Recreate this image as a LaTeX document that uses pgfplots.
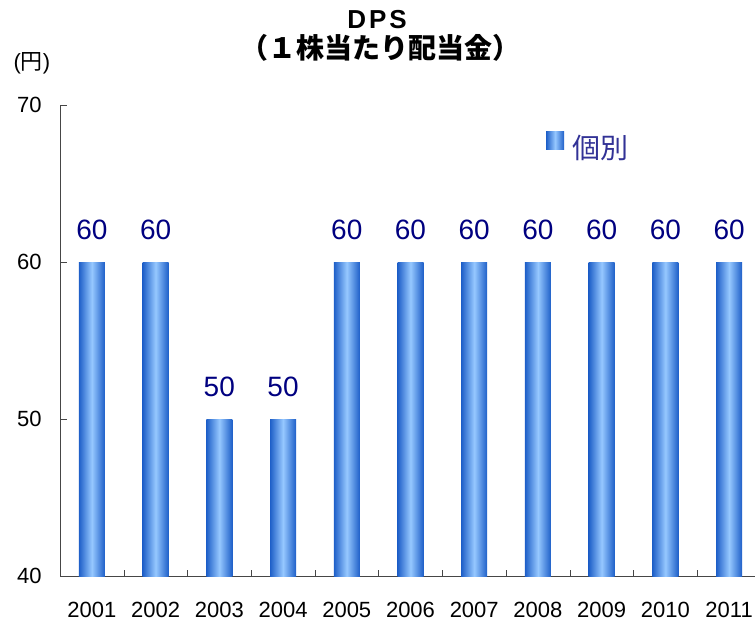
\documentclass[border=0pt]{standalone}
\usepackage{fontspec}
\setmainfont{Liberation Sans}
\newfontfamily\cjk{Noto Sans CJK JP}
\usepackage{pgfplots}
\pgfplotsset{compat=1.18}

\definecolor{barside}{RGB}{30,95,200}
\definecolor{barmid}{RGB}{150,200,255}
\definecolor{lblnavy}{RGB}{0,0,128}
\definecolor{legnavy}{RGB}{50,50,150}
\definecolor{axgray}{RGB}{70,70,70}

\pgfplotsset{
    gbar/.style={ybar, bar width=13pt, draw=none,
        left color=barside, right color=barside, middle color=barmid},
}

\begin{document}
\begin{tikzpicture}
% page = 755x622 px at 0.5pt per px
\path[use as bounding box, clip] (0,0) rectangle (377.5pt,-311pt);
\node[font=\bfseries\fontsize{13}{15}\selectfont] at (188.5pt,-10pt) {D\hspace{1.5pt}P\hspace{1.5pt}S};
\node[font=\cjk\bfseries\fontsize{14}{16}\selectfont] at (190pt,-24pt) {（１株当たり配当金）};
\node[font=\fontsize{11}{13}\selectfont] at (16pt,-31.5pt) {({\cjk 円})};
\begin{axis}[
    at={(30pt,-288pt)}, anchor=south west,
    scale only axis,
    width=350.5pt, height=235.5pt,
    xmin=-0.5, xmax=10.5,
    ymin=40, ymax=70,
    axis x line=bottom, axis y line=left,
    axis line style={axgray, -},
    tick style={axgray},
    tick align=inside,
    ytick={40,50,60,70},
    major tick length=3.5pt,
    xtick={0,...,10},
    xticklabels={2001,2002,2003,2004,2005,2006,2007,2008,2009,2010,2011},
    major x tick style={draw=none},
    minor xtick={0.5,1.5,...,9.5},
    minor tick length=3pt,
    /pgf/number format/assume math mode=true,
    ticklabel style={font=\fontsize{11}{13}\selectfont, inner sep=0pt},
    xticklabel style={anchor=north, yshift=-13pt},
    yticklabel style={anchor=east, xshift=-9pt},
    nodes near coords,
    every node near coord/.append style={font=\fontsize{14}{16}\selectfont, text=lblnavy, anchor=south, inner sep=0pt, yshift=11pt},
    legend style={at={(0.6935,0.909)}, anchor=west, draw=none, fill=none,
        inner sep=0pt, outer sep=0pt, nodes={inner sep=1pt},
        font=\cjk\fontsize{14}{16}\selectfont, text=legnavy,
        /tikz/every odd column/.append style={column sep=3pt}},
]
\addplot[gbar,
    legend image code/.code={\fill[left color=barside, right color=barside, middle color=barmid] (0pt,-0.5pt) rectangle (9pt,8.5pt);}]
    coordinates {(0,60)};
\addlegendentry{個別}
\addplot[gbar, forget plot] coordinates {(1,60)};
\addplot[gbar, forget plot] coordinates {(2,50)};
\addplot[gbar, forget plot] coordinates {(3,50)};
\addplot[gbar, forget plot] coordinates {(4,60)};
\addplot[gbar, forget plot] coordinates {(5,60)};
\addplot[gbar, forget plot] coordinates {(6,60)};
\addplot[gbar, forget plot] coordinates {(7,60)};
\addplot[gbar, forget plot] coordinates {(8,60)};
\addplot[gbar, forget plot] coordinates {(9,60)};
\addplot[gbar, forget plot] coordinates {(10,60)};
\end{axis}
\end{tikzpicture}
\end{document}
